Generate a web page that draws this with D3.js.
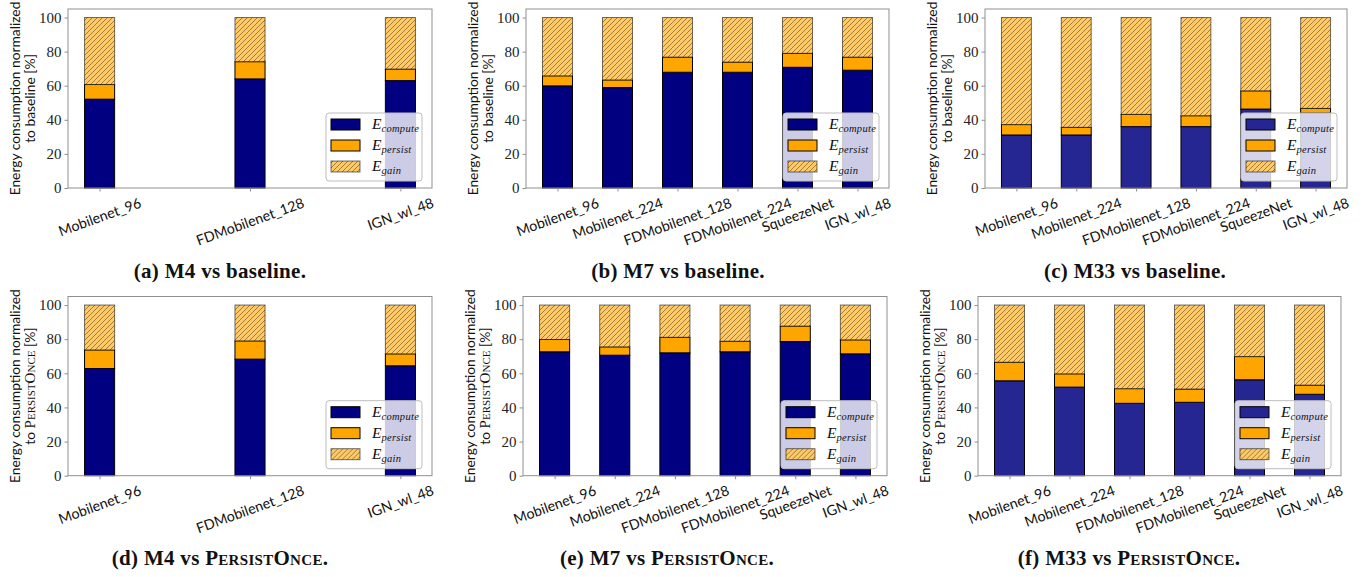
<!DOCTYPE html>
<html>
<head>
<meta charset="utf-8">
<script src="https://cdn.jsdelivr.net/npm/d3@7"></script>
<style>
  body { margin: 0; background: #fff; }
  svg { display: block; }
</style>
</head>
<body>
<svg id="fig" width="1367" height="577"></svg>
<script>
// categories
const modelsFew = ["Mobilenet_96", "FDMobilenet_128", "IGN_wl_48"];
const modelsAll = ["Mobilenet_96", "Mobilenet_224", "FDMobilenet_128", "FDMobilenet_224", "SqueezeNet", "IGN_wl_48"];
const yTicks = [0, 20, 40, 60, 80, 100];
const seriesNames = ["compute", "persist", "gain"];

// values (% of reference); gain is the rest up to 100
const computeM4Base = [52.1, 64.0, 63.0];
const persistM4Base = [8.6, 10.1, 6.8];
const computeM7Base = [59.9, 58.9, 67.9, 67.9, 70.8, 69.1];
const persistM7Base = [5.9, 4.5, 8.9, 6.0, 8.2, 7.7];
const computeM33Base = [31.1, 31.1, 36.0, 36.0, 46.3, 44.0];
const persistM33Base = [6.1, 4.5, 7.2, 6.4, 10.7, 2.7];
const computeM4PO = [62.8, 68.3, 64.4];
const persistM4PO = [10.9, 10.7, 7.0];
const computeM7PO = [72.6, 70.6, 72.0, 72.6, 78.6, 71.4];
const persistM7PO = [7.2, 4.9, 9.1, 6.2, 9.1, 8.2];
const computeM33PO = [55.6, 51.9, 42.4, 43.0, 56.2, 47.7];
const persistM33PO = [10.9, 7.8, 8.6, 7.8, 13.6, 5.4];

// layout of the six panels
const panels = [
  {cats: modelsFew, compute: computeM4Base, persist: persistM4Base, left: 68, right: 432, top: 9, bottom: 188, ref: "baseline", dark: true, cap: "(a) M4 vs ", capX: 220},
  {cats: modelsAll, compute: computeM7Base, persist: persistM7Base, left: 526, right: 889, top: 9, bottom: 188, ref: "baseline", dark: true, cap: "(b) M7 vs ", capX: 678},
  {cats: modelsAll, compute: computeM33Base, persist: persistM33Base, left: 985, right: 1347, top: 9, bottom: 188, ref: "baseline", dark: false, cap: "(c) M33 vs ", capX: 1135},
  {cats: modelsFew, compute: computeM4PO, persist: persistM4PO, left: 68, right: 432, top: 296.5, bottom: 475.7, ref: "po", dark: true, cap: "(d) M4 vs ", capX: 220},
  {cats: modelsAll, compute: computeM7PO, persist: persistM7PO, left: 523, right: 887, top: 296.5, bottom: 475.7, ref: "po", dark: true, cap: "(e) M7 vs ", capX: 667},
  {cats: modelsAll, compute: computeM33PO, persist: persistM33PO, left: 978, right: 1341, top: 296.5, bottom: 475.7, ref: "po", dark: false, cap: "(f) M33 vs ", capX: 1129}
];

const sansFont = "Lato, 'Open Sans', sans-serif";
const serifFont = "'Liberation Serif', 'DejaVu Serif', serif";
const colors = {navy: "#000080", navyLight: "#262693", persist: "#FFA500", gain: "#FFC966"};
const frameColor = "#8f8f8f";

const svg = d3.select("#fig");

// hatch pattern for E_gain
const defs = svg.append("defs");
const pat = defs.append("pattern")
    .attr("id", "hatch")
    .attr("patternUnits", "userSpaceOnUse")
    .attr("width", 5)
    .attr("height", 5);
pat.append("rect").attr("width", 5).attr("height", 5).attr("fill", colors.gain);
pat.append("path")
    .attr("d", "M0,5 L5,0 M-1,1 L1,-1 M4,6 L6,4")
    .attr("stroke", "rgba(0,0,0,0.55)")
    .attr("stroke-width", 0.7);

panels.forEach(function(p) {
  const n = p.cats.length;
  const w = n > 3 ? 0.5 : 0.2;
  const lo = -w / 2, hi = n - 1 + w / 2;
  const m = (hi - lo) * 0.05;

  const x = d3.scaleLinear().domain([lo - m, hi + m]).range([p.left, p.right]);
  const y = d3.scaleLinear().domain([0, 105]).range([p.bottom, p.top]);

  const g = svg.append("g");

  // stacked data
  const rows = p.cats.map(function(c, i) {
    return {cat: c, i: i, compute: p.compute[i], persist: p.persist[i], gain: 100 - p.compute[i] - p.persist[i]};
  });
  const stacked = d3.stack().keys(seriesNames)(rows);

  const fills = {compute: p.dark ? colors.navy : colors.navyLight, persist: colors.persist, gain: "url(#hatch)"};
  const strokes = {compute: "#000", persist: "#000", gain: "rgba(0,0,0,0.55)"};

  stacked.forEach(function(layer) {
    g.selectAll(null)
        .data(layer)
        .enter()
        .append("rect")
        .attr("x", function(d) { return x(d.data.i - w / 2); })
        .attr("width", x(w) - x(0))
        .attr("y", function(d) { return y(d[1]); })
        .attr("height", function(d) { return y(d[0]) - y(d[1]); })
        .attr("fill", fills[layer.key])
        .attr("stroke", strokes[layer.key])
        .attr("stroke-width", 1);
  });

  // frame
  g.append("rect")
      .attr("x", p.left).attr("y", p.top)
      .attr("width", p.right - p.left).attr("height", p.bottom - p.top)
      .attr("fill", "none").attr("stroke", frameColor).attr("stroke-width", 1);

  // y axis
  const yAxis = g.append("g")
      .attr("transform", "translate(" + p.left + ",0)")
      .call(d3.axisLeft(y).tickValues(yTicks).tickSize(3.5).tickPadding(3));
  yAxis.select(".domain").remove();
  yAxis.selectAll(".tick line").attr("stroke", frameColor);
  yAxis.selectAll(".tick text")
      .attr("font-family", serifFont)
      .attr("font-size", 15)
      .attr("fill", "#222");

  // x axis ticks
  const xAxis = g.append("g")
      .attr("transform", "translate(0," + p.bottom + ")")
      .call(d3.axisBottom(x).tickValues(d3.range(n)).tickSize(3.5).tickFormat(""));
  xAxis.select(".domain").remove();
  xAxis.selectAll(".tick line").attr("stroke", frameColor);

  // rotated category labels, bbox centred under the tick
  const fs = 14.2;
  const ang = 20 * Math.PI / 180;
  p.cats.forEach(function(c, i) {
    const t = g.append("text")
        .attr("font-family", sansFont)
        .attr("font-size", fs)
        .attr("fill", "#111")
        .attr("text-anchor", "middle")
        .attr("dominant-baseline", "central")
        .text(c);
    const tw = t.node().getComputedTextLength();
    const bh = tw * Math.sin(ang) + fs * Math.cos(ang);
    const yc = p.bottom + 7 + bh / 2;
    t.attr("transform", "translate(" + x(i) + "," + yc + ") rotate(-20)");
  });

  // y label
  const midY = (p.top + p.bottom) / 2;
  const yl = g.append("g")
      .attr("transform", "translate(" + (p.left - 48) + "," + midY + ") rotate(-90)")
      .attr("font-family", sansFont)
      .attr("font-size", 13.8)
      .attr("fill", "#111")
      .attr("text-anchor", "middle");
  yl.append("text").attr("y", 0).text("Energy consumption normalized");
  const l2 = yl.append("text").attr("y", 14.5);
  if (p.ref === "baseline") {
    l2.text("to baseline [%]");
  } else {
    l2.append("tspan").text("to ");
    l2.append("tspan").attr("font-family", serifFont).attr("font-size", 15)
        .style("font-variant", "small-caps").text("PersistOnce");
    l2.append("tspan").text(" [%]");
  }

  // legend
  const lw = 96, lh = 68;
  const lx = p.right - 10 - lw, ly = p.bottom - 7 - lh;
  const lg = g.append("g").attr("transform", "translate(" + lx + "," + ly + ")");
  lg.append("rect")
      .attr("width", lw).attr("height", lh).attr("rx", 3)
      .attr("fill", "#fff").attr("fill-opacity", 0.8)
      .attr("stroke", "#bdbdbd").attr("stroke-width", 1);
  const subs = {compute: "compute", persist: "persist", gain: "gain"};
  seriesNames.forEach(function(k, j) {
    const ry = 6 + j * 21;
    lg.append("rect")
        .attr("x", 5).attr("y", ry).attr("width", 29).attr("height", 11)
        .attr("fill", fills[k]).attr("stroke", strokes[k]).attr("stroke-width", 1);
    const lt = lg.append("text")
        .attr("x", 46).attr("y", ry + 10)
        .attr("font-family", serifFont)
        .attr("font-style", "italic")
        .attr("fill", "#111");
    lt.append("tspan").attr("font-size", 15.5).text("E");
    lt.append("tspan").attr("font-size", 10.5).attr("dy", 3).attr("letter-spacing", 0.3).text(subs[k]);
  });

  // caption
  const cap = svg.append("text")
      .attr("x", p.capX)
      .attr("y", p.top < 100 ? 278 : 565)
      .attr("text-anchor", "middle")
      .attr("font-family", serifFont)
      .attr("font-weight", "bold")
      .attr("font-size", 21)
      .attr("letter-spacing", 0.3)
      .attr("fill", "#111");
  cap.append("tspan").text(p.cap);
  if (p.ref === "baseline") {
    cap.append("tspan").text("baseline.");
  } else {
    cap.append("tspan").style("font-variant", "small-caps").text("PersistOnce.");
  }
});
</script>
</body>
</html>
